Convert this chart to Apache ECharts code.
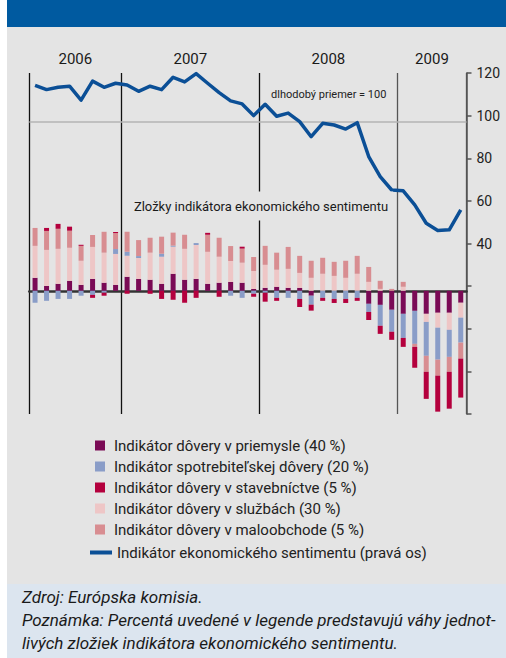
<!DOCTYPE html>
<html>
<head>
<meta charset="utf-8">
<script src="https://cdn.jsdelivr.net/npm/echarts@6/dist/echarts.min.js"></script>
<style>
  html, body { margin: 0; padding: 0; background: #fff; }
  #chart { width: 506px; height: 658px; }
</style>
</head>
<body>
<div id="chart"></div>
<script>
// mesiace 05/2006 - 06/2009
const months = [
  '2006-05', '2006-06', '2006-07', '2006-08', '2006-09', '2006-10', '2006-11', '2006-12',
  '2007-01', '2007-02', '2007-03', '2007-04', '2007-05', '2007-06', '2007-07', '2007-08',
  '2007-09', '2007-10', '2007-11', '2007-12',
  '2008-01', '2008-02', '2008-03', '2008-04', '2008-05', '2008-06', '2008-07', '2008-08',
  '2008-09', '2008-10', '2008-11', '2008-12',
  '2009-01', '2009-02', '2009-03', '2009-04', '2009-05', '2009-06'
];
const years = ['2006', '2007', '2008', '2009'];

// zlozky (prispevky, lava skryta os)
const industry = [6.1, 2.3, 3.3, 4.7, 2.8, 5.6, 3.8, 2.8, 6.6, 5.6, 5.2, 3.3, 8.0, 5.2, 5.6, 3.3, 3.8, 4.2, 3.8, 0.9,
  1.4, 1.9, 1.4, 1.4, -2.3, 0, 0, 0, 0, -6.1, -6.6, -8.9, -10.8, -9.4, -10.8, -10.3, -10.3, -5.6];
const services = [15.0, 16.9, 16.4, 15.5, 11.3, 15.0, 14.1, 14.5, 9.8, 9.8, 12.7, 12.7, 12.7, 14.5, 15.9, 15.0, 12.2, 9.8, 9.4, 8.4,
  10.8, 8.0, 8.9, 7.0, 6.1, 8.0, 7.0, 6.1, 8.0, 4.2, 0.9, 0, 1.9, 0, -3.8, -7.0, -8.0, -7.0];
const consumer = [-5.6, -4.7, -3.8, -3.8, -2.3, -1.9, -0.9, 2.3, 1.9, 0.9, 0, 1.4, 0.5, 0, 0.9, 0, 0, -2.3, -3.3, -1.4,
  -0.9, -3.3, -3.3, -3.8, -4.2, -3.3, -3.8, -3.8, -3.3, -3.8, -9.8, -10.3, -11.3, -15.5, -15.9, -15.0, -12.7, -11.7];
const retail = [8.4, 8.9, 9.4, 8.0, 7.0, 5.6, 9.8, 7.5, 9.4, 7.5, 7.0, 8.0, 6.1, 6.6, 0, 8.0, 8.9, 7.0, 6.6, 6.6,
  8.9, 8.0, 10.3, 8.0, 8.0, 7.5, 6.6, 8.0, 8.4, 7.0, 3.8, 0.9, 2.3, -1.4, -7.5, -7.5, -7.0, -7.5];
const construction = [0, 1.4, 2.3, 1.9, 0.5, -1.4, -1.4, 0.5, -1.4, 0, -1.4, -3.8, -4.2, -5.6, -3.3, 0.9, -2.8, 0, 0.9, -1.4,
  -4.2, -1.4, 0, -3.8, -2.8, -1.4, -1.9, -1.9, -1.4, -3.8, -3.8, -3.8, -4.2, -9.8, -12.7, -16.9, -17.3, -18.3];

// indikator ekonomickeho sentimentu (prava os)
const sentiment = [114.2, 112.2, 113.3, 113.8, 107.3, 116.2, 113.3, 115.2, 114.4, 111.4, 113.8, 112.2, 118.0, 115.8,
  119.7, 115.2, 110.8, 106.9, 105.5, 100.0, 105.3, 99.7, 101.2, 97.2, 90.1, 96.4, 95.6, 93.7, 96.7, 80.8, 71.4,
  65.1, 64.7, 58.1, 49.5, 46.1, 46.4, 55.8];
const avgLevel = 97.3; // dlhodoby priemer, ako je zakresleny v grafe

const names = {
  industry: 'Indikátor dôvery v priemysle (40 %)',
  consumer: 'Indikátor spotrebiteľskej dôvery (20 %)',
  construction: 'Indikátor dôvery v stavebníctve (5 %)',
  services: 'Indikátor dôvery v službách (30 %)',
  retail: 'Indikátor dôvery v maloobchode (5 %)',
  sentiment: 'Indikátor ekonomického sentimentu (pravá os)'
};

const FONT = '"Roboto", "Liberation Sans", sans-serif';
const gridLeft = 29.3, gridRight = 39.5, gridTop = 73, gridBottom = 244;
const band = (506 - gridLeft - gridRight) / months.length;

// hranice rokov (index prveho mesiaca v roku)
const yearStart = years.map(y => months.findIndex(m => m.startsWith(y)));

const chart = echarts.init(document.getElementById('chart'), null, { renderer: 'svg' });

function barSeries(name, data, color) {
  return {
    name: name,
    type: 'bar',
    stack: 'zlozky',
    yAxisIndex: 1,
    barWidth: 5,
    data: data,
    itemStyle: { color: color },
    emphasis: { disabled: true }
  };
}

const yearTexts = years.map((y, i) => {
  const s = yearStart[i];
  const e = i < years.length - 1 ? yearStart[i + 1] : months.length;
  return {
    type: 'text',
    x: gridLeft + band * (s + e) / 2,
    y: 59,
    z: 50,
    style: { text: y, fontSize: 15, fill: '#1a1a1a', fontFamily: FONT, align: 'center', verticalAlign: 'middle' }
  };
});

const option = {
  backgroundColor: '#fff',
  animation: false,
  grid: { left: gridLeft, right: gridRight, top: gridTop, bottom: gridBottom },
  legend: [
    {
      orient: 'vertical',
      left: 90,
      top: 432,
      itemWidth: 10,
      itemHeight: 10,
      itemGap: 4,
      icon: 'rect',
      selectedMode: false,
      data: [names.industry, names.consumer, names.construction, names.services, names.retail],
      textStyle: { fontSize: 15, color: '#222', fontFamily: FONT, lineHeight: 17, padding: [0, 0, 0, 4] }
    },
    {
      orient: 'vertical',
      left: 85,
      top: 539,
      itemWidth: 22,
      itemHeight: 4,
      icon: 'rect',
      selectedMode: false,
      data: [names.sentiment],
      textStyle: { fontSize: 15, color: '#222', fontFamily: FONT, lineHeight: 17, padding: [0, 0, 0, 0] }
    }
  ],
  xAxis: {
    type: 'category',
    data: months,
    boundaryGap: true,
    axisLine: { show: true, onZero: true, onZeroAxisIndex: 1, lineStyle: { color: '#333', width: 2.5 } },
    axisTick: { show: false },
    axisLabel: { show: false },
    splitLine: {
      show: true,
      interval: (i, v) => yearStart.indexOf(i) >= 0,
      lineStyle: { color: ['#111', '#111', '#111', '#555', '#555'], width: 1.3 }
    }
  },
  yAxis: [
    {
      type: 'value',
      position: 'right',
      min: -40,
      max: 120,
      interval: 20,
      axisLine: { show: true, lineStyle: { color: '#555', width: 1.5 } },
      axisTick: { show: true, inside: false, length: 5, lineStyle: { color: '#555', width: 1.5 } },
      axisLabel: {
        margin: 10,
        fontSize: 14,
        color: '#222',
        fontFamily: FONT,
        formatter: v => (v >= 40 ? String(v) : '')
      },
      splitLine: { show: false }
    },
    {
      type: 'value',
      position: 'left',
      min: -57.8,
      max: 102.2,
      axisLine: { show: false },
      axisTick: { show: false },
      axisLabel: { show: false },
      splitLine: { show: false }
    }
  ],
  series: [
    barSeries(names.industry, industry, '#7a0a55'),
    barSeries(names.services, services, '#eec6c6'),
    barSeries(names.consumer, consumer, '#8a9dc8'),
    barSeries(names.retail, retail, '#d88d91'),
    barSeries(names.construction, construction, '#b4003d'),
    {
      name: names.sentiment,
      type: 'line',
      yAxisIndex: 0,
      data: sentiment,
      symbol: 'none',
      z: 5,
      lineStyle: { color: '#0b4f96', width: 3.5, join: 'round' },
      itemStyle: { color: '#0b4f96' },
      emphasis: { disabled: true },
      markLine: {
        silent: true,
        symbol: 'none',
        label: { show: false },
        lineStyle: { color: '#b4b4b4', width: 1.5, type: 'solid' },
        data: [{ yAxis: avgLevel }],
        z: 1
      }
    }
  ],
  graphic: [
    { type: 'rect', shape: { x: 7, y: 0, width: 499, height: 27 }, style: { fill: '#005aa0' }, z: -10 },
    { type: 'rect', shape: { x: 7, y: 27, width: 499, height: 557 }, style: { fill: '#e4e4e4' }, z: -10 },
    { type: 'rect', shape: { x: 7, y: 584, width: 499, height: 74 }, style: { fill: '#dce5ef' }, z: -10 },
    ...yearTexts,
    {
      type: 'text', x: 271, y: 94, z: 50,
      style: { text: 'dlhodobý priemer = 100', fontSize: 11, fill: '#222', fontFamily: FONT, verticalAlign: 'middle' }
    },
    {
      type: 'text', x: 261, y: 206, z: 50,
      style: {
        text: 'Zložky indikátora ekonomického sentimentu', fontSize: 13, fill: '#1a1a1a', fontFamily: FONT,
        align: 'center', verticalAlign: 'middle', backgroundColor: '#e4e4e4', padding: [8, 5]
      }
    },
    {
      type: 'text', x: 22, y: 597, z: 50,
      style: { text: 'Zdroj: Európska komisia.', fontSize: 17, fontStyle: 'italic', fill: '#1a1a1a', fontFamily: FONT, verticalAlign: 'middle' }
    },
    {
      type: 'text', x: 22, y: 620, z: 50,
      style: { text: 'Poznámka: Percentá uvedené v legende predstavujú váhy jednot-', fontSize: 17, fontStyle: 'italic', fill: '#1a1a1a', fontFamily: FONT, verticalAlign: 'middle' }
    },
    {
      type: 'text', x: 22, y: 643, z: 50,
      style: { text: 'livých zložiek indikátora ekonomického sentimentu.', fontSize: 17, fontStyle: 'italic', fill: '#1a1a1a', fontFamily: FONT, verticalAlign: 'middle' }
    }
  ]
};

chart.setOption(option);
</script>
</body>
</html>
